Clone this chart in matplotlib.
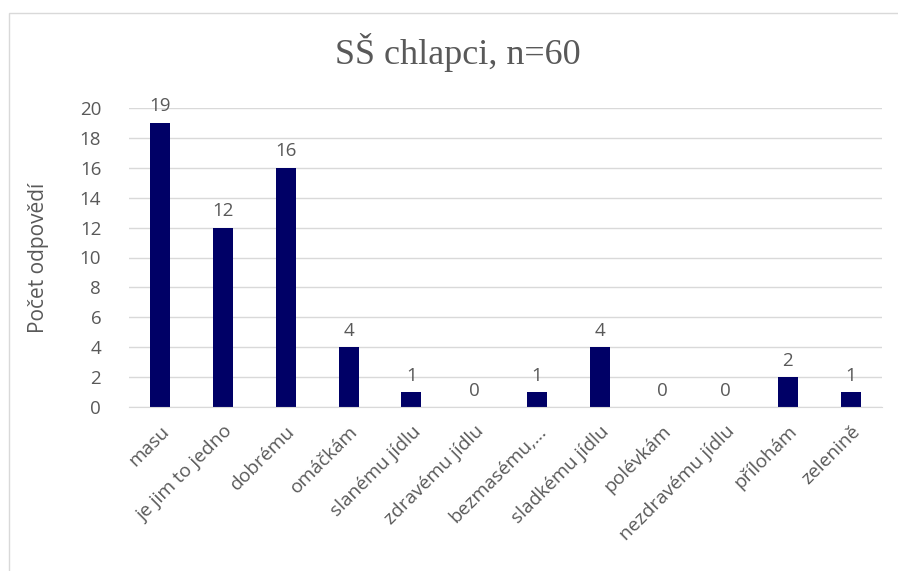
import numpy as np
import matplotlib
matplotlib.use('Agg')
import matplotlib.pyplot as plt
from matplotlib.patches import Rectangle

# Odpovědi SŠ chlapců
kategorie = ["masu", "je jim to jedno", "dobrému", "omáčkám", "slanému jídlu",
             "zdravému jídlu", "bezmasému,…", "sladkému jídlu", "polévkám",
             "nezdravému jídlu", "přílohám", "zelenině"]
pocty = [19, 12, 16, 4, 1, 0, 1, 4, 0, 0, 2, 1]
yticks = [0, 2, 4, 6, 8, 10, 12, 14, 16, 18, 20]

seda = '#595959'
plt.rcParams['font.family'] = ['Open Sans', 'DejaVu Sans']

fig = plt.figure(figsize=(8.98, 5.71), dpi=100)
ax = fig.add_axes([129/898, 1-407/571, (882-129)/898, (407-108)/571])

# rámeček grafu
fig.patches.append(Rectangle((9/898, -0.01), 1.0, 1-13/571+0.01, transform=fig.transFigure,
                             fill=False, edgecolor='#d9d9d9', linewidth=1.0))

x = np.arange(len(kategorie))
bars = ax.bar(x, pocty, width=0.32, color='#000066', zorder=3)
for xi, v in zip(x, pocty):
    ax.text(xi, v + 0.5, str(v), ha='center', va='bottom', fontsize=13.5, color=seda)

ax.set_xlim(-0.5, len(kategorie) - 0.5)
ax.set_ylim(0, 20)
ax.set_yticks(yticks)
ax.tick_params(axis='y', length=0, labelsize=13.5, labelcolor=seda, pad=20)
ax.tick_params(axis='x', length=0, labelsize=13.8, labelcolor=seda, pad=11)
ax.set_xticks(x)
ax.set_xticklabels(kategorie, rotation=45, ha='right', rotation_mode='anchor')
ax.grid(axis='y', color='#d9d9d9', linewidth=1.0, zorder=0)
for s in ['top', 'right', 'left']:
    ax.spines[s].set_visible(False)
ax.spines['bottom'].set_color('#d9d9d9')
ax.spines['bottom'].set_zorder(4)

ax.set_ylabel("Počet odpovědí", fontsize=15, color=seda, labelpad=22)
fig.text(0.51, 1-52/571, "SŠ chlapci, n=60", ha='center', va='center',
         fontsize=26, color=seda, family='Liberation Serif')

fig.savefig('out.png', dpi=100)
